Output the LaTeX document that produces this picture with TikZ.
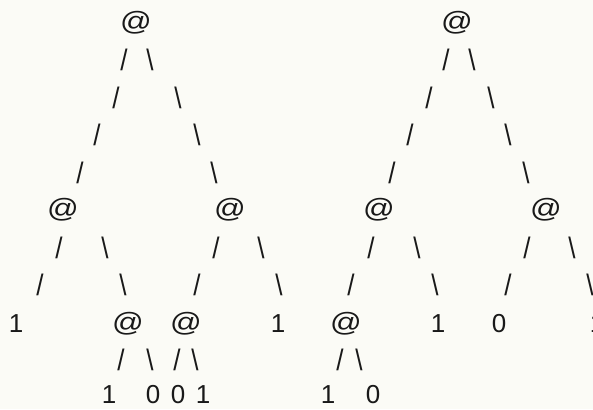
\documentclass[tikz,border=0pt]{standalone}
\usepackage{graphicx}
\usepackage{fontspec}
\setmainfont{Liberation Sans}
\definecolor{bgcol}{RGB}{251,251,246}
\definecolor{inkcol}{RGB}{25,25,25}
\tikzset{
  ch/.style={inner sep=0pt, text=inkcol, font=\fontsize{26}{26}\selectfont},
}
\newcommand{\atsym}{\scalebox{1.2}[1.02]{@}}
\newcommand{\fsl}{\scalebox{1}[1.14]{/}}
\newcommand{\bsl}{\scalebox{1}[1.14]{\textbackslash}}
\begin{document}
\begin{tikzpicture}
\fill[bgcol] (0,0) rectangle (593pt,-409pt);
\useasboundingbox (0,0) rectangle (593pt,-409pt);
\begin{scope}[x=1pt, y=-37.5pt, shift={(0,-22.5pt)}]
% ---------- left tree ----------
\node[ch] (La) at (136,0) {\atsym};
\node[ch] (La1l) at (124,1) {\fsl};   \node[ch] (La1r) at (150,1) {\bsl};
\node[ch] (La2l) at (116,2) {\fsl};   \node[ch] (La2r) at (178,2) {\bsl};
\node[ch] (La3l) at (97,3) {\fsl};    \node[ch] (La3r) at (197,3) {\bsl};
\node[ch] (La4l) at (80,4) {\fsl};    \node[ch] (La4r) at (214,4) {\bsl};
\node[ch] (Lb) at (63,5) {\atsym};    \node[ch] (Lc) at (230,5) {\atsym};
\node[ch] (Lb1l) at (59,6) {\fsl};    \node[ch] (Lb1r) at (105,6) {\bsl};
\node[ch] (Lc1l) at (216,6) {\fsl};   \node[ch] (Lc1r) at (261,6) {\bsl};
\node[ch] (Lb2l) at (40,7) {\fsl};    \node[ch] (Lb2r) at (123,7) {\bsl};
\node[ch] (Lc2l) at (197,7) {\fsl};   \node[ch] (Lc2r) at (279,7) {\bsl};
\node[ch] (Ld) at (16,8.04) {1};      \node[ch] (Le) at (128,8.04) {\atsym};
\node[ch] (Lf) at (186,8.04) {\atsym}; \node[ch] (Lg) at (278,8.04) {1};
\node[ch] (Le1l) at (121,9) {\fsl};   \node[ch] (Le1r) at (150,9) {\bsl};
\node[ch] (Lf1l) at (177,9) {\fsl};   \node[ch] (Lf1r) at (195,9) {\bsl};
\node[ch] (Lh) at (109,9.93) {1};     \node[ch] (Li) at (153,9.93) {0};
\node[ch] (Lj) at (178,9.93) {0};     \node[ch] (Lk) at (203,9.93) {1};
% ---------- right tree ----------
\node[ch] (Ra) at (457,0) {\atsym};
\node[ch] (Ra1l) at (446,1) {\fsl};   \node[ch] (Ra1r) at (472,1) {\bsl};
\node[ch] (Ra2l) at (429,2) {\fsl};   \node[ch] (Ra2r) at (491,2) {\bsl};
\node[ch] (Ra3l) at (410,3) {\fsl};   \node[ch] (Ra3r) at (508,3) {\bsl};
\node[ch] (Ra4l) at (392,4) {\fsl};   \node[ch] (Ra4r) at (526,4) {\bsl};
\node[ch] (Rb) at (379,5) {\atsym};   \node[ch] (Rc) at (546,5) {\atsym};
\node[ch] (Rb1l) at (371,6) {\fsl};   \node[ch] (Rb1r) at (417,6) {\bsl};
\node[ch] (Rc1l) at (527,6) {\fsl};   \node[ch] (Rc1r) at (572,6) {\bsl};
\node[ch] (Rb2l) at (351,7) {\fsl};   \node[ch] (Rb2r) at (435,7) {\bsl};
\node[ch] (Rc2l) at (508,7) {\fsl};   \node[ch] (Rc2r) at (590,7) {\bsl};
\node[ch] (Rd) at (346,8.04) {\atsym}; \node[ch] (Re) at (438,8.04) {1};
\node[ch] (Rf) at (499,8.04) {0};     \node[ch] (Rg) at (597,8.04) {1};
\node[ch] (Rd1l) at (340,9) {\fsl};   \node[ch] (Rd1r) at (359,9) {\bsl};
\node[ch] (Rh) at (328,9.93) {1};     \node[ch] (Ri) at (373,9.93) {0};
\end{scope}
\end{tikzpicture}
\end{document}
